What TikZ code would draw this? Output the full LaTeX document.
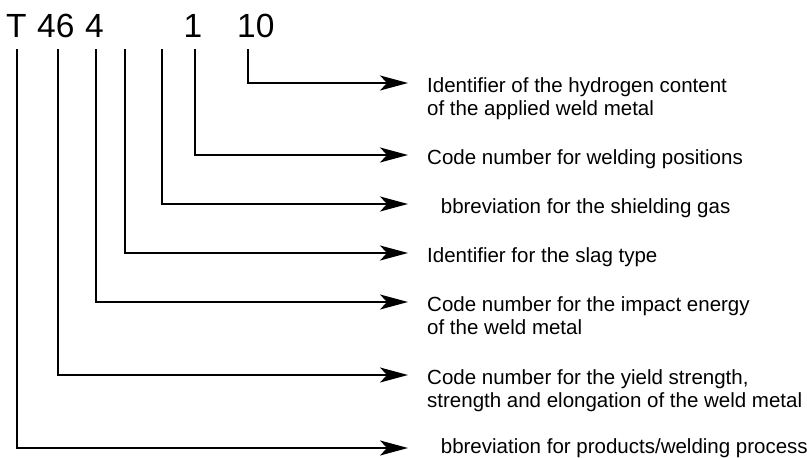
\documentclass[tikz,border=0pt]{standalone}
\usepackage{fontspec}
\setmainfont{Liberation Sans}
\usepackage{tikz}
\usetikzlibrary{arrows.meta}

\begin{document}
\begin{tikzpicture}[x=1pt, y=-1pt,
    link/.style={line width=1.4pt, -{Stealth[length=28pt, width=15pt, inset=7pt]}},
    code/.style={anchor=base west, inner sep=0pt, font=\fontsize{33.5}{36}\selectfont},
    lbl/.style={anchor=base west, inner sep=0pt, align=left, font=\fontsize{20.5}{23}\selectfont}]
\useasboundingbox (0,0) rectangle (807,458);

%%% designation

% code letters
\node[code] (cT) at (6,37) {T};
\node[code] (cYield) at (37,37) {46};
\node[code] (cImpact) at (85,37) {4};
\node[code] (cPos) at (183.5,37) {1};
\node[code] (cHyd) at (237,37) {10};

% tops of the lines
\coordinate (tT) at (17,49);
\coordinate (tYield) at (58,49);
\coordinate (tImpact) at (96,49);
\coordinate (tSlag) at (125,49);
\coordinate (tGas) at (162,49);
\coordinate (tPos) at (195,49);
\coordinate (tHyd) at (248,49);

% arrow ends
\coordinate (eHyd) at (408,83);
\coordinate (ePos) at (408,155);
\coordinate (eGas) at (408,204);
\coordinate (eSlag) at (408,253);
\coordinate (eImpact) at (408,302);
\coordinate (eYield) at (408,375);
\coordinate (eT) at (408,448);

%%% meanings (base = last line)

\node[lbl] (lHyd) at (427,115.5) {Identifier of the hydrogen content\\of the applied weld metal};
\node[lbl] (lPos) at (427,164.5) {Code number for welding positions};
\node[lbl] (lGas) at (427,213.5) {\phantom{A}bbreviation for the shielding gas};
\node[lbl] (lSlag) at (427,262.5) {Identifier for the slag type};
\node[lbl] (lImpact) at (427,334.5) {Code number for the impact energy\\of the weld metal};
\node[lbl] (lYield) at (427,407.5) {Code number for the yield strength,\\strength and elongation of the weld metal};
\node[lbl] (lT) at (427,453.2) {\phantom{A}bbreviation for products/welding process};

%%% links
\draw[link] (tHyd) |- (eHyd);
\draw[link] (tPos) |- (ePos);
\draw[link] (tGas) |- (eGas);
\draw[link] (tSlag) |- (eSlag);
\draw[link] (tImpact) |- (eImpact);
\draw[link] (tYield) |- (eYield);
\draw[link] (tT) |- (eT);

\end{tikzpicture}
\end{document}
